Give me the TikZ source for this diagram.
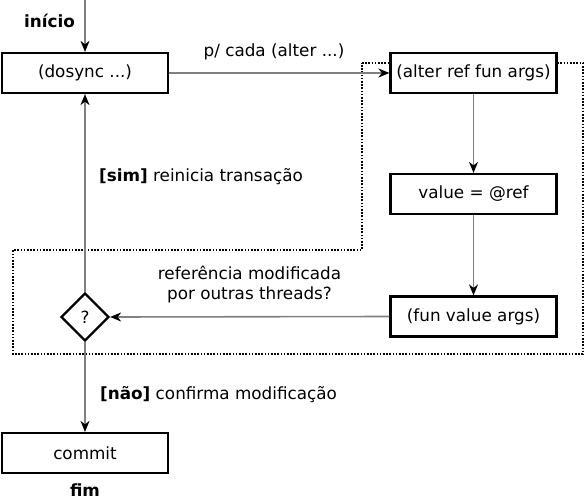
\documentclass[tikz,border=0pt]{standalone}
\usepackage{fontspec}
\setmainfont{DejaVu Sans}
\usetikzlibrary{shapes.geometric,arrows.meta}
\begin{document}
\begin{tikzpicture}[x=1pt,y=-1pt,
  font=\fontsize{16.8}{20}\selectfont,
  box/.style={draw=black,line width=2.2pt,fill=white,minimum width=166pt,minimum height=40pt,inner sep=0pt},
  dec/.style={draw=black,line width=2.2pt,fill=white,diamond,minimum width=48pt,minimum height=48pt,inner sep=0pt},
  conn/.style={draw=gray,line width=1.6pt,-{Stealth[length=11pt,width=9pt,inset=3.5pt,black]}},
  lbl/.style={inner sep=0pt},
  region/.style={draw=black,line width=1.8pt,dash pattern=on 1.6pt off 1.6pt}
]
\useasboundingbox (0,0) rectangle (585,500);
% dotted region
\draw[region] (362,63) -- (583,63) -- (583,354) -- (13,354) -- (13,250) -- (362,250) -- cycle;
% nodes
\node[box] (dosync) at (85,73) {(dosync ...)};
\node[box] (alter) at (473.5,73) {(alter ref fun args)};
\node[box] (value) at (473.5,194) {value = @ref};
\node[box] (fun) at (473.5,316.5) {(fun value args)};
\node[dec] (q) at (85,317) {?};
\node[box] (commit) at (85,453) {commit};
\coordinate (start) at (85,0);
% labels
\node[lbl] (inicio) at (49.5,21) {\textbf{início}};
\node[lbl] (fim) at (85,490) {\textbf{fim}};
\node[lbl] (pcada) at (274,52) {p/ cada (alter ...)};
\node[lbl,anchor=west] (sim) at (99,177) {\textbf{[sim]} reinicia transação};
\node[lbl,anchor=west] (nao) at (100,395) {\textbf{[não]} confirma modificação};
\node[lbl,align=center] (ref) at (249.5,285) {referência modificada\\por outras threads?};
% connectors
\draw[conn] (start) -- (dosync.north);
\draw[conn] (dosync.east) -- (alter.west);
\draw[conn] (alter.south) -- (value.north);
\draw[conn] (value.south) -- (fun.north);
\draw[conn] (fun.west) -- (q.east);
\draw[conn] (q.north) -- (dosync.south);
\draw[conn] (q.south) -- (commit.north);
\end{tikzpicture}
\end{document}
